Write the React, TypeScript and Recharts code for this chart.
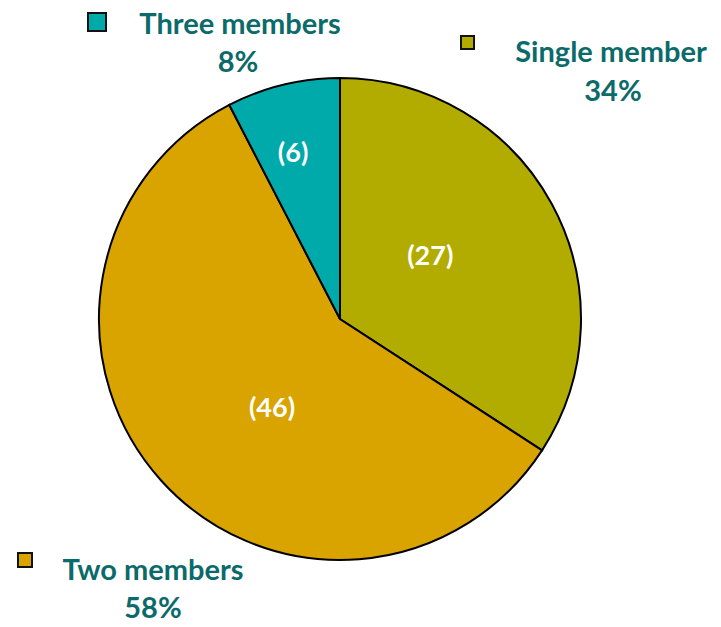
import { PieChart, Pie, Cell, Customized } from "recharts";

// household size breakdown
const categories = ["Single member", "Two members", "Three members"];
const counts = [27, 46, 6];
const shares = ["34%", "58%", "8%"];

const COLORS = ["#B3AC00", "#D9A300", "#00AAAA"];
const TEXT = "#0B6A6A";
const FONT = "Lato, 'Open Sans', sans-serif";

// where each legend block sits (text centre + marker box)
const legendLayout = [
  { tx: 611, ty: 50, px: 613, py: 89, bx: 461, by: 36, bs: 13 },
  { tx: 153, ty: 568, px: 153, py: 606, bx: 18, by: 553, bs: 14 },
  { tx: 240, ty: 22, px: 238, py: 60, bx: 88, by: 13, bs: 18 },
];

// inner value label placement: fraction of radius, angle nudge
const labelRadius = [0.46, 0.46, 0.72];
const labelNudge = [7, 10, 2];

const data = categories.map((name, i) => ({ name, value: counts[i] }));

const RAD = Math.PI / 180;

function renderLabel(props: any) {
  const { cx, cy, midAngle, outerRadius, index, value } = props;
  const r = outerRadius * labelRadius[index];
  const a = (midAngle + labelNudge[index]) * RAD;
  const x = cx + r * Math.cos(a);
  const y = cy - r * Math.sin(a);
  return (
    <text
      x={x}
      y={y}
      fill="#fff"
      fontFamily={FONT}
      fontWeight={700}
      fontSize={27}
      textAnchor="middle"
      dominantBaseline="central"
    >
      ({value})
    </text>
  );
}

function LegendBlocks() {
  return (
    <g>
      {categories.map((name, i) => {
        const l = legendLayout[i];
        return (
          <g key={name}>
            <rect
              x={l.bx}
              y={l.by}
              width={l.bs}
              height={l.bs}
              fill={COLORS[i]}
              stroke="#111"
              strokeWidth={2}
            />
            <text
              x={l.tx}
              y={l.ty}
              fill={TEXT}
              fontFamily={FONT}
              fontWeight={700}
              fontSize={29}
              textAnchor="middle"
              dominantBaseline="central"
            >
              {name}
            </text>
            <text
              x={l.px}
              y={l.py}
              fill={TEXT}
              fontFamily={FONT}
              fontWeight={700}
              fontSize={29}
              textAnchor="middle"
              dominantBaseline="central"
            >
              {shares[i]}
            </text>
          </g>
        );
      })}
    </g>
  );
}

export default function App() {
  return (
    <div style={{ position: "absolute", left: 0, top: 0, background: "#fff" }}>
      <PieChart width={721} height={627} margin={{ top: 0, right: 0, bottom: 0, left: 0 }}>
        <Pie
          data={data}
          dataKey="value"
          nameKey="name"
          cx={340}
          cy={319}
          outerRadius={241}
          startAngle={90}
          endAngle={-270}
          stroke="#000"
          strokeWidth={2}
          label={renderLabel}
          labelLine={false}
          isAnimationActive={false}
        >
          {data.map((d, i) => (
            <Cell key={d.name} fill={COLORS[i]} />
          ))}
        </Pie>
        <Customized component={LegendBlocks} />
      </PieChart>
    </div>
  );
}
